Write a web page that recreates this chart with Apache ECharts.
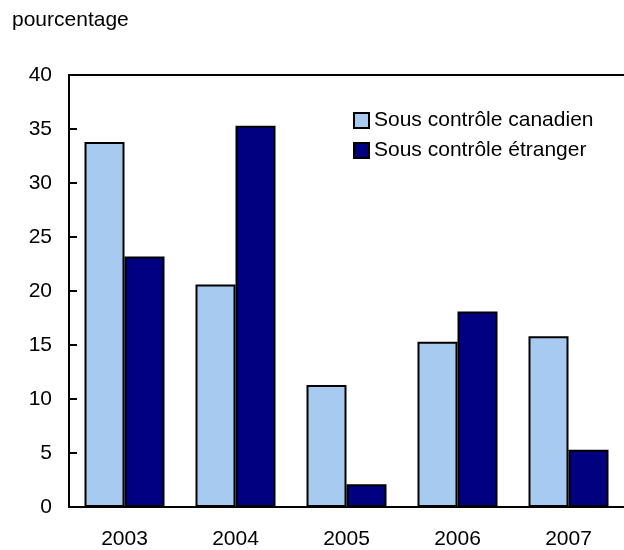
<!DOCTYPE html>
<html>
<head>
<meta charset="utf-8">
<script src="https://cdn.jsdelivr.net/npm/echarts@6/dist/echarts.min.js"></script>
<style>
html,body{margin:0;padding:0;background:#fff;}
#chart{width:624px;height:550px;}
</style>
</head>
<body>
<div id="chart"></div>
<script>
var categories = ['2003', '2004', '2005', '2006', '2007'];
var canadian = [33.8, 20.6, 11.3, 15.3, 15.8];
var foreign = [23.2, 35.3, 2.1, 18.1, 5.3];
var seriesNames = ['Sous contrôle canadien', 'Sous contrôle étranger'];
var yTicks = [0, 5, 10, 15, 20, 25, 30, 35, 40];
var unitLabel = 'pourcentage';

var FONT = '"Liberation Sans", Arial, Helvetica, sans-serif';
var chart = echarts.init(document.getElementById('chart'), null, {renderer: 'canvas'});
chart.setOption({
  backgroundColor: '#ffffff',
  animation: false,
  textStyle: {fontFamily: FONT},
  graphic: [{
    type: 'text', left: 12, top: 10,
    style: {text: unitLabel, fontSize: 21, fontFamily: FONT, fill: '#000'}
  }],
  legend: {
    orient: 'vertical',
    left: 353, top: 110,
    padding: 0,
    itemWidth: 15, itemHeight: 15,
    itemGap: 9,
    icon: 'rect',
    itemStyle: {borderColor: '#000', borderWidth: 2},
    textStyle: {fontSize: 21, lineHeight: 21, color: '#000', fontFamily: FONT},
    data: seriesNames
  },
  grid: {left: 69, right: -1, top: 75, bottom: 42.5, show: false},
  xAxis: [{
    type: 'category',
    data: categories,
    axisLine: {show: true, lineStyle: {color: '#000', width: 2}},
    axisTick: {show: false},
    axisLabel: {fontSize: 21, color: '#000', margin: 22, fontFamily: FONT}
  }, {
    type: 'category',
    position: 'top',
    data: categories,
    axisLine: {show: true, lineStyle: {color: '#000', width: 2}},
    axisTick: {show: false},
    axisLabel: {show: false}
  }],
  yAxis: {
    type: 'value',
    min: yTicks[0], max: yTicks[yTicks.length - 1], interval: 5,
    axisLine: {show: true, lineStyle: {color: '#000', width: 2}},
    axisTick: {show: true, inside: true, length: 8, lineStyle: {color: '#000', width: 2}},
    splitLine: {show: false},
    axisLabel: {fontSize: 21, color: '#000', margin: 17, fontFamily: FONT}
  },
  series: [{
    name: seriesNames[0], type: 'bar', data: canadian,
    barWidth: 40, barGap: '0%',
    itemStyle: {color: '#A6CAF0', borderColor: '#000', borderWidth: 2}
  }, {
    name: seriesNames[1], type: 'bar', data: foreign,
    barWidth: 40, barGap: '0%',
    itemStyle: {color: '#000080', borderColor: '#000', borderWidth: 2}
  }]
});
</script>
</body>
</html>
